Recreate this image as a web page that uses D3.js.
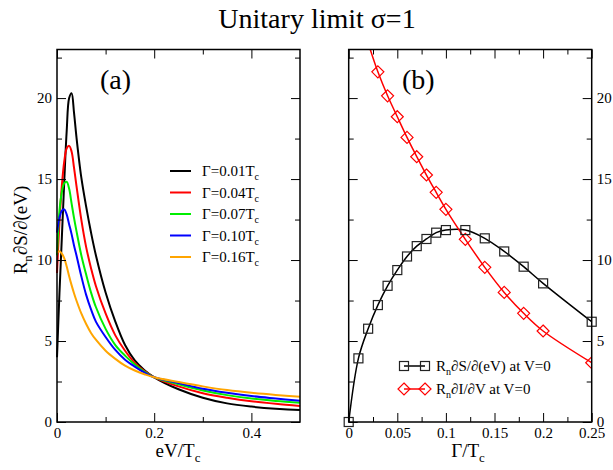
<!DOCTYPE html>
<html>
<head>
<meta charset="utf-8">
<script src="https://cdn.jsdelivr.net/npm/d3@7"></script>
<style>
  body { margin: 0; background: #fff; }
  svg text { font-family: "Liberation Serif", "DejaVu Serif", serif !important; fill: #000; }
</style>
</head>
<body>
<div id="chart"></div>
<script>
// panel (a): R_n dS/d(eV) vs eV/Tc for several Gamma
let eV = [0, 0.005, 0.01, 0.015, 0.02, 0.025, 0.03, 0.035, 0.04, 0.05, 0.06, 0.07, 0.08,
          0.1, 0.12, 0.14, 0.16, 0.18, 0.2, 0.25, 0.3, 0.35, 0.4, 0.45, 0.5];
let gammas = [0.01, 0.04, 0.07, 0.10, 0.16];
let colors = ["#000000", "#ff0000", "#00ee00", "#0000ff", "#ffa500"];
let g001 = [4.0, 7.9, 11.4, 14.9, 18.0, 20.0, 20.3, 19.1, 17.6, 15.1, 13.3, 11.7, 10.3,
            8.0, 6.2, 4.75, 3.8, 3.2, 2.76, 2.02, 1.5, 1.15, 0.95, 0.82, 0.74];
let g004 = [9.2, 12.3, 14.6, 16.1, 16.9, 17.05, 16.7, 15.7, 14.6, 12.5, 10.8, 9.5, 8.4,
            6.7, 5.35, 4.4, 3.65, 3.15, 2.76, 2.2, 1.78, 1.5, 1.28, 1.12, 0.99];
let g007 = [10.3, 13.0, 14.2, 14.75, 14.83, 14.4, 13.5, 12.6, 11.8, 10.3, 9.1, 8.0, 7.1,
            5.75, 4.75, 4.1, 3.55, 3.1, 2.76, 2.33, 1.95, 1.66, 1.45, 1.3, 1.19];
let g010 = [11.7, 12.6, 13.05, 13.13, 12.8, 12.2, 11.6, 10.9, 10.3, 9.0, 7.85, 6.95, 6.2,
            5.25, 4.45, 3.85, 3.42, 3.05, 2.76, 2.4, 2.05, 1.8, 1.6, 1.45, 1.31];
let g016 = [10.45, 10.55, 10.4, 10.1, 9.6, 9.0, 8.45, 7.95, 7.5, 6.7, 6.05, 5.5, 5.08,
            4.4, 3.9, 3.48, 3.18, 2.95, 2.76, 2.47, 2.2, 1.97, 1.8, 1.67, 1.56];
let seriesA = [g001, g004, g007, g010, g016];

// panel (b): zero-bias values vs Gamma/Tc
let gammaS = [0, 0.01, 0.02, 0.03, 0.04, 0.05, 0.06, 0.07, 0.08, 0.09, 0.1, 0.12, 0.14, 0.16, 0.18, 0.2, 0.25];
let dSdeV = [0, 3.93, 5.76, 7.22, 8.41, 9.38, 10.22, 10.86, 11.3, 11.69, 11.85, 11.85, 11.34, 10.53, 9.59, 8.56, 6.19];
let gammaI = [0.02, 0.03, 0.04, 0.05, 0.06, 0.07, 0.08, 0.09, 0.1, 0.12, 0.14, 0.16, 0.18, 0.2, 0.25];
let dIdV = [23.4, 21.62, 20.14, 18.85, 17.57, 16.38, 15.25, 14.18, 13.13, 11.28, 9.55, 8.0, 6.71, 5.62, 3.66];

let yMajor = [0, 5, 10, 15, 20];
let yMinor = [2.5, 7.5, 12.5, 17.5, 22.5];
let xMajorA = [0, 0.2, 0.4];
let xMinorA = [0.1, 0.3];
let xMajorB = [0, 0.05, 0.1, 0.15, 0.2, 0.25];
let xMinorB = [0.025, 0.075, 0.125, 0.175, 0.225];

let width = 613, height = 470;
let svg = d3.select("#chart").append("svg")
    .attr("width", width).attr("height", height)
    .attr("font-family", "Liberation Serif, serif");

let yTop = 49.5, yBottom = 422;
let y = d3.scaleLinear().domain([0, 23]).range([yBottom, yTop]);
let xA = d3.scaleLinear().domain([0, 0.5]).range([57, 300]);
let xB = d3.scaleLinear().domain([0, 0.25]).range([348.7, 591.7]);

let fmt = d => d === 0 ? "0" : String(+d.toFixed(3));

function frame(x, xMaj, xMin, labelLeft, labelRight) {
    let g = svg.append("g");
    let add = (axis, tf, vals, size, lab) => {
        let a = g.append("g").attr("transform", tf)
            .call(axis.tickValues(vals).tickSize(-size).tickPadding(lab ? 5 : 0)
                  .tickFormat(lab ? fmt : ""));
        a.attr("font-family", null);
        a.select(".domain").remove();
        a.selectAll("line").attr("stroke", "#000").attr("stroke-width", 1);
        a.selectAll("text").attr("font-size", 15).attr("fill", "#000");
        return a;
    };
    let [x0, x1] = x.range();
    add(d3.axisBottom(x), `translate(0,${yBottom})`, xMaj, 9, true);
    add(d3.axisBottom(x), `translate(0,${yBottom})`, xMin, 5, false);
    add(d3.axisTop(x), `translate(0,${yTop})`, xMaj, 9, false);
    add(d3.axisTop(x), `translate(0,${yTop})`, xMin, 5, false);
    add(d3.axisLeft(y), `translate(${x0},0)`, yMajor, 9, labelLeft);
    add(d3.axisLeft(y), `translate(${x0},0)`, yMinor, 5, false);
    add(d3.axisRight(y), `translate(${x1},0)`, yMajor, 9, labelRight);
    add(d3.axisRight(y), `translate(${x1},0)`, yMinor, 5, false);
    g.append("rect").attr("x", x0).attr("y", yTop)
        .attr("width", x1 - x0).attr("height", yBottom - yTop)
        .attr("fill", "none").attr("stroke", "#000").attr("stroke-width", 1.5);
}

// title
svg.append("text").attr("x", 317).attr("y", 28).attr("text-anchor", "middle")
    .attr("font-size", 28).text("Unitary limit σ=1");

// ---- panel (a)
let lineA = d3.line().x((d, i) => xA(eV[i])).y(d => y(d)).curve(d3.curveCatmullRom.alpha(0.5));
svg.append("g").selectAll("path").data(seriesA).enter().append("path")
    .attr("d", lineA).attr("fill", "none")
    .attr("stroke", (d, i) => colors[i]).attr("stroke-width", 2);
frame(xA, xMajorA, xMinorA, true, false);

svg.append("text").attr("x", 100).attr("y", 89).attr("font-size", 28).text("(a)");

let leg = svg.append("g").selectAll("g").data(gammas).enter().append("g")
    .attr("transform", (d, i) => `translate(170,${171 + i * 21.5})`);
leg.append("line").attr("x1", 0).attr("x2", 21)
    .attr("stroke", (d, i) => colors[i]).attr("stroke-width", 2);
let lt = leg.append("text").attr("x", 32).attr("y", 5).attr("font-size", 15);
lt.append("tspan").text(d => "Γ=" + d.toFixed(2) + "T");
lt.append("tspan").attr("font-size", 10).attr("dy", 4).text("c");

let xl = svg.append("text").attr("x", 178).attr("y", 457).attr("text-anchor", "middle").attr("font-size", 19);
xl.append("tspan").text("eV/T");
xl.append("tspan").attr("font-size", 13).attr("dy", 5).text("c");

let yl = svg.append("text").attr("transform", "translate(27,230) rotate(-90)")
    .attr("text-anchor", "middle").attr("font-size", 19);
yl.append("tspan").text("R");
yl.append("tspan").attr("font-size", 13).attr("dy", 5).text("n");
yl.append("tspan").attr("dy", -5).text("∂S/∂(eV)");

// ---- panel (b)
svg.append("clipPath").attr("id", "clipb").append("rect")
    .attr("x", xB.range()[0]).attr("y", yTop)
    .attr("width", xB.range()[1] - xB.range()[0]).attr("height", yBottom - yTop);
let pb = svg.append("g").attr("clip-path", "url(#clipb)");

let lineS = d3.line().x((d, i) => xB(gammaS[i])).y(d => y(d)).curve(d3.curveCatmullRom.alpha(0.5));
let lineI = d3.line().x((d, i) => xB(gammaI[i])).y(d => y(d)).curve(d3.curveCatmullRom.alpha(0.5));
pb.append("path").attr("d", lineS(dSdeV)).attr("fill", "none").attr("stroke", "#000").attr("stroke-width", 1.5);
pb.append("path").attr("d", lineI(dIdV)).attr("fill", "none").attr("stroke", "#ff0000").attr("stroke-width", 1.5);

function square(sel, cx, cy) {
    sel.append("rect").attr("x", cx - 4.5).attr("y", cy - 4.5).attr("width", 9).attr("height", 9)
        .attr("fill", "none").attr("stroke", "#222").attr("stroke-width", 1.2);
}
function diamond(sel, cx, cy) {
    sel.append("path").attr("d", `M${cx},${cy - 6}L${cx + 6},${cy}L${cx},${cy + 6}L${cx - 6},${cy}Z`)
        .attr("fill", "none").attr("stroke", "#ff0000").attr("stroke-width", 1.2);
}
dSdeV.forEach((v, i) => square(svg, xB(gammaS[i]), y(v)));
dIdV.forEach((v, i) => { if (v <= 23) diamond(pb, xB(gammaI[i]), y(v)); });

frame(xB, xMajorB, xMinorB, false, true);

svg.append("text").attr("x", 402).attr("y", 89).attr("font-size", 28).text("(b)");

let xlb = svg.append("text").attr("x", 468).attr("y", 457).attr("text-anchor", "middle").attr("font-size", 19);
xlb.append("tspan").text("Γ/T");
xlb.append("tspan").attr("font-size", 13).attr("dy", 5).text("c");

// legend (b)
let lg = svg.append("g");
lg.append("line").attr("x1", 404).attr("x2", 425).attr("y1", 366).attr("y2", 366).attr("stroke", "#000").attr("stroke-width", 1.5);
square(lg, 404, 366); square(lg, 425, 366);
lg.append("line").attr("x1", 404).attr("x2", 425).attr("y1", 389).attr("y2", 389).attr("stroke", "#ff0000").attr("stroke-width", 1.5);
diamond(lg, 404, 389); diamond(lg, 425, 389);
let t1 = lg.append("text").attr("x", 436).attr("y", 371).attr("font-size", 15);
t1.append("tspan").text("R");
t1.append("tspan").attr("font-size", 10).attr("dy", 4).text("n");
t1.append("tspan").attr("dy", -4).text("∂S/∂(eV) at V=0");
let t2 = lg.append("text").attr("x", 436).attr("y", 394).attr("font-size", 15);
t2.append("tspan").text("R");
t2.append("tspan").attr("font-size", 10).attr("dy", 4).text("n");
t2.append("tspan").attr("dy", -4).text("∂I/∂V at V=0");
</script>
</body>
</html>
